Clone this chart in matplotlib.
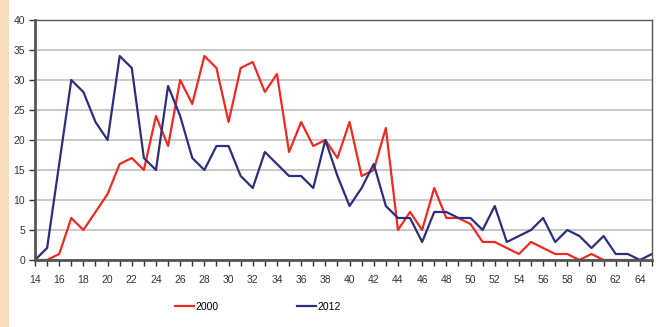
import numpy as np
import matplotlib
matplotlib.use("Agg")
import matplotlib.pyplot as plt
from matplotlib.patches import Rectangle

plt.rcParams['font.family'] = ['Liberation Sans', 'DejaVu Sans']

# ages and counts
ages_2000 = list(range(14, 65))
vals_2000 = [0, 0, 1, 7, 5, 8, 11, 16, 17, 15, 24, 19, 30, 26, 34, 32, 23, 32, 33, 28,
             31, 18, 23, 19, 20, 17, 23, 14, 15, 22, 5, 8, 5, 12, 7, 7, 6, 3, 3, 2,
             1, 3, 2, 1, 1, 0, 1, 0, 0, 0, 0]
ages_2012 = list(range(14, 66))
vals_2012 = [0, 2, 16, 30, 28, 23, 20, 34, 32, 17, 15, 29, 24, 17, 15, 19, 19, 14, 12, 18,
             16, 14, 14, 12, 20, 14, 9, 12, 16, 9, 7, 7, 3, 8, 8, 7, 7, 5, 9, 3,
             4, 5, 7, 3, 5, 4, 2, 4, 1, 1, 0, 1]
labels = ['2000', '2012']
colors = ['#ec2b24', '#2c2f7c']

fig = plt.figure(figsize=(6.56, 3.27), dpi=100)
fig.patches.append(Rectangle((0, 0), 9 / 656, 1, transform=fig.transFigure,
                             facecolor='#fbdcb8', edgecolor='none', zorder=0))

ax = fig.add_axes([35 / 656, 1 - 260 / 327, 617 / 656, 240 / 327])
ax.plot(ages_2000, vals_2000, color=colors[0], lw=1.6, label=labels[0])
ax.plot(ages_2012, vals_2012, color=colors[1], lw=1.6, label=labels[1])

ax.set_xlim(14, 65)
ax.set_ylim(0, 40)
ax.set_xticks(range(14, 65, 2))
ax.set_xticks(range(14, 66), minor=True)
ax.set_yticks(range(0, 41, 5))
ax.yaxis.grid(True, color='#c9c9c9', lw=1.4)
ax.set_axisbelow(True)
ax.tick_params(axis='both', labelsize=7.5, colors='#333333', length=4, width=1,
               direction='out')
ax.tick_params(axis='x', which='minor', length=4, width=1, color='#333333')
ax.tick_params(axis='x', pad=7)
ax.tick_params(axis='y', pad=3)
for s in ['top', 'right']:
    ax.spines[s].set_color('#555555')
    ax.spines[s].set_linewidth(1.0)
ax.spines['left'].set_color('#555555')
ax.spines['left'].set_linewidth(2.0)
ax.spines['bottom'].set_color('#555555')
ax.spines['bottom'].set_linewidth(2.0)

fig.legend(loc='center', bbox_to_anchor=(258 / 656, 1 - 307 / 327), ncol=2,
           frameon=False, fontsize=7.5, handlelength=1.8, handletextpad=0.15,
           columnspacing=7.5)

fig.savefig('out.png', dpi=100)
